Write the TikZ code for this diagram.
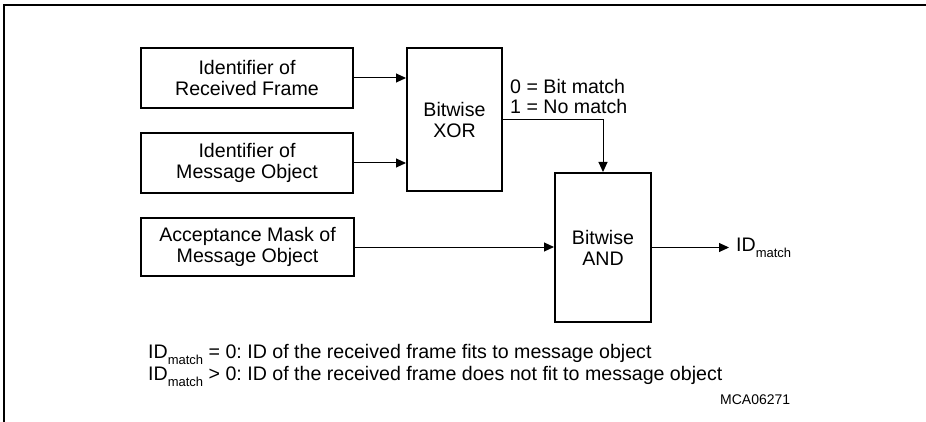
\documentclass[tikz,border=0pt]{standalone}
\usepackage{fontspec}
\setmainfont{Liberation Sans}
\usetikzlibrary{arrows.meta}
\frenchspacing
\newcommand{\idm}{ID\raisebox{-6pt}{\fontsize{13}{13}\selectfont match}}
\begin{document}
\begin{tikzpicture}[x=1pt,y=-1pt,
  blk/.style={draw,line width=2pt,inner sep=0pt,align=center,font=\fontsize{19.6}{21}\selectfont},
  conn/.style={line width=1pt,-{Triangle[length=10pt,width=9pt]}},
  lbl/.style={inner sep=0pt,font=\fontsize{19.6}{21}\selectfont}]
\useasboundingbox (0,0) rectangle (926,422);
\draw[line width=1.3pt] (4,422) -- (4,5) -- (926,5);
\node[blk,minimum width=212pt,minimum height=60pt] (rf) at (247,78) {Identifier of\\Received Frame};
\node[blk,minimum width=212pt,minimum height=60pt] (mo) at (247,163) {Identifier of\\Message Object};
\node[blk,minimum width=213pt,minimum height=58pt] (am) at (247.5,247) {Acceptance Mask of\\Message Object};
\node[blk,minimum width=95pt,minimum height=143pt] (xor) at (454.5,119.5) {Bitwise\\XOR};
\node[blk,minimum width=96pt,minimum height=149pt] (and) at (603,247.5) {Bitwise\\AND};
\coordinate (out) at (729,247.5);
\draw[conn] (rf.east) -- (rf.east -| xor.west);
\draw[conn] (mo.east) -- (mo.east -| xor.west);
\draw[conn] (am.east) -- (am.east -| and.west);
\coordinate (xo) at (502,120);
\draw[conn] (xo) -| (and.north);
\draw[conn] (and.east) -- (out);
\node[lbl,anchor=west] (idout) at (736,247.5) {\idm};
\node[lbl,anchor=base west] (m0) at (510,94) {0 = Bit match};
\node[lbl,anchor=base west] (m1) at (510,114) {1 = No match};
\node[lbl,anchor=base west] (n1) at (148,358) {\idm{} = 0: ID of the received frame fits to message object};
\node[lbl,anchor=base west] (n2) at (148,380) {\idm{} > 0: ID of the received frame does not fit to message object};
\node[inner sep=0pt,anchor=base west,font=\fontsize{14}{16}\selectfont] (code) at (720,404) {MCA06271};
\end{tikzpicture}
\end{document}
